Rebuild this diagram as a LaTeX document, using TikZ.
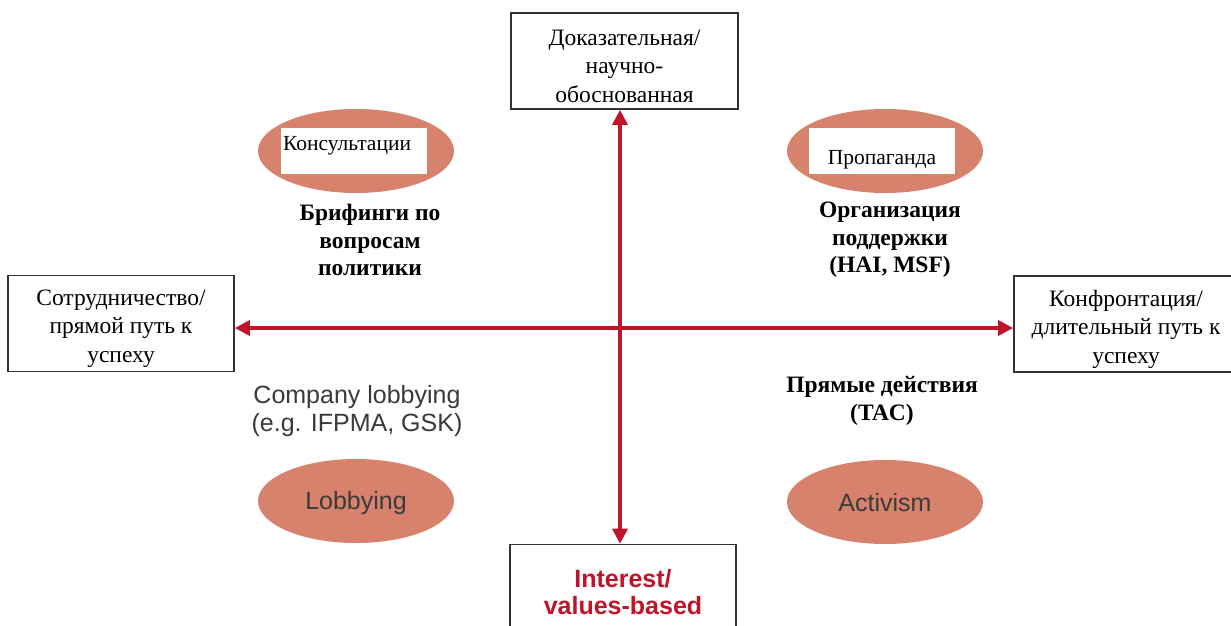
\documentclass[tikz,border=0pt]{standalone}
\usepackage{fontspec}
\setmainfont{Liberation Serif}
\setsansfont{Liberation Sans}
\usetikzlibrary{arrows.meta,shapes.geometric}
\definecolor{axisred}{HTML}{C0142A}
\definecolor{blobfill}{HTML}{D7826C}
\definecolor{gtext}{HTML}{3A3A3A}
\begin{document}
\begin{tikzpicture}[x=1pt,y=-1pt,
  endbox/.style={draw=black!80, line width=1.6pt, fill=white, align=center, inner sep=0pt},
  boxtext/.style={align=center, inner sep=0pt, font=\fontsize{23.5}{28.5}\selectfont},
  blob/.style={ellipse, fill=blobfill, minimum width=196pt, minimum height=84pt, inner sep=0pt},
  whitepatch/.style={fill=white, minimum width=146pt, minimum height=46pt, inner sep=0pt},
  smalltext/.style={font=\fontsize{21.5}{24}\selectfont, inner sep=0pt},
  boldlabel/.style={align=center, inner sep=0pt, font=\bfseries\fontsize{23.5}{27.5}\selectfont},
  sanslabel/.style={align=center, inner sep=0pt, text=gtext, font=\sffamily\fontsize{25}{28.5}\selectfont},
  axis/.style={draw=axisred, line width=3.4pt, {Triangle[length=15pt,width=15pt]}-{Triangle[length=15pt,width=15pt]}}
]
\useasboundingbox (0,0) rectangle (1231,625);
\clip (0,0) rectangle (1231,625);
\fill[white] (0,0) rectangle (1231,625);

% end boxes
\node[endbox, minimum width=227pt, minimum height=96pt] (top) at (624.5,61) {};
\node[boxtext] (toptext) at ([yshift=-5pt]top.center) {Доказательная/\\научно-\\обоснованная};
\node[endbox, minimum width=226pt, minimum height=96pt] (left) at (121,323.5) {};
\node[boxtext] (lefttext) at ([yshift=-5pt]left.center) {Сотрудничество/\\прямой путь к\\успеху};
\node[endbox, minimum width=224pt, minimum height=96pt] (right) at (1126,324) {};
\node[boxtext] (righttext) at ([yshift=-5pt]right.center) {Конфронтация/\\длительный путь к\\успеху};
\node[endbox, minimum width=226pt, minimum height=95pt, text=axisred,
  font=\sffamily\bfseries\fontsize{25}{27}\selectfont] (bottom) at (623,592)
  {Interest/\\values-based};

% axes
\coordinate (c) at (620,328);
\draw[axis] (c |- top.south) -- (c |- bottom.north);
\draw[axis] (left.east |- c) -- (right.west |- c);

% ellipses
\node[blob] (e1) at (356,151) {};
\node[whitepatch] (w1) at (354,151) {};
\node[smalltext, anchor=north west] (t1) at ([xshift=2pt,yshift=-8pt]w1.north west) {Консультации};

\node[blob] (e2) at (885,151) {};
\node[whitepatch] (w2) at (882,150.5) {};
\node[smalltext] (t2) at (882,160) {Пропаганда};

\node[blob] (e3) at (356,501) {};
\node[sanslabel] (t3) at (356,503) {Lobbying};

\node[blob] (e4) at (885,502) {};
\node[sanslabel] (t4) at (885,503) {Activism};

% labels
\node[boldlabel] (b1) at (370,240) {Брифинги по\\вопросам\\политики};
\node[boldlabel] (b2) at (890,240) {Организация\\поддержки\\(HAI, MSF)};
\node[boldlabel] (b3) at (882,401) {Прямые действия\\(TAC)};
\node[sanslabel] (s1) at (357,411) {Company lobbying\\(e.g. IFPMA, GSK)};
\end{tikzpicture}
\end{document}
